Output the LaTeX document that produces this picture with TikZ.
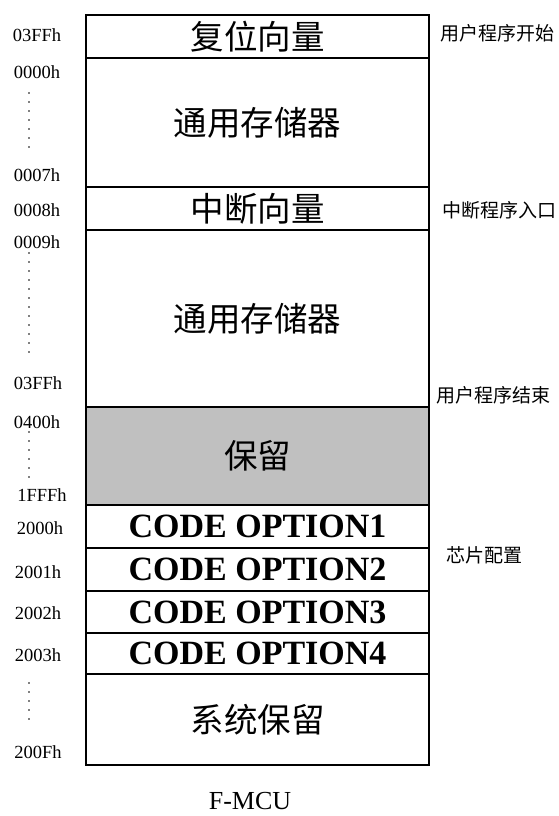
\documentclass[tikz,border=0pt]{standalone}
\usepackage{fontspec}
\setmainfont{Liberation Serif}
\newfontfamily\cjk{Noto Sans CJK SC}
\begin{document}
\begin{tikzpicture}[x=1pt,y=-1pt,
  blk/.style={draw=black,line width=2.6pt,minimum width=343pt,inner sep=0pt,anchor=center},
  big/.style={font=\cjk\fontsize{33.5}{36}\selectfont},
  opt/.style={font=\bfseries\fontsize{34}{36}\selectfont},
  addr/.style={font=\fontsize{18.5}{20}\selectfont,anchor=center},
  note/.style={font=\cjk\fontsize{19}{21}\selectfont,anchor=west,inner sep=0pt},
  dotline/.style={line width=1.6pt,line cap=round,dash pattern=on 0pt off 9pt}]
\useasboundingbox (0,0) rectangle (558,816);
\fill[white] (0,0) rectangle (558,816);
% blocks
\node[blk,big,minimum height=43pt] (b1) at (257.5,36.5) {复位向量};
\node[blk,big,minimum height=129pt] (b2) at (257.5,122.5) {通用存储器};
\node[blk,big,minimum height=43pt] (b3) at (257.5,208.5) {中断向量};
\node[blk,big,minimum height=177pt] (b4) at (257.5,318.5) {通用存储器};
\node[blk,big,minimum height=98pt,fill={rgb,255:red,192;green,192;blue,192}] (b5) at (257.5,456) {保留};
\node[blk,opt,minimum height=43pt] (b6) at (257.5,526.5) {CODE OPTION1};
\node[blk,opt,minimum height=43pt] (b7) at (257.5,569.5) {CODE OPTION2};
\node[blk,opt,minimum height=42pt] (b8) at (257.5,612) {CODE OPTION3};
\node[blk,opt,minimum height=41pt] (b9) at (257.5,653.5) {CODE OPTION4};
\node[blk,big,minimum height=91pt] (b10) at (257.5,719.5) {系统保留};
% address labels
\node[addr] (a1) at (37,35) {03FFh};
\node[addr] (a2) at (37,72) {0000h};
\node[addr] (a3) at (37,175) {0007h};
\node[addr] (a4) at (37,210) {0008h};
\node[addr] (a5) at (37,242) {0009h};
\node[addr] (a6) at (38,383) {03FFh};
\node[addr] (a7) at (37,422) {0400h};
\node[addr] (a8) at (42,495) {1FFFh};
\node[addr] (a9) at (40,528) {2000h};
\node[addr] (a10) at (38,572) {2001h};
\node[addr] (a11) at (38,613) {2002h};
\node[addr] (a12) at (38,655) {2003h};
\node[addr] (a13) at (38,752) {200Fh};
% dots
\draw[dotline] (29,93) -- (29,148);
\draw[dotline] (29,253) -- (29,356);
\draw[dotline] (29,432) -- (29,478);
\draw[dotline] (29,683) -- (29,720);
% notes
\node[note] (n1) at (440,33) {用户程序开始};
\node[note] (n2) at (442,210) {中断程序入口};
\node[note] (n3) at (436,395) {用户程序结束};
\node[note] (n4) at (446,555) {芯片配置};
% title
\node[font=\fontsize{26}{28}\selectfont] (t) at (250,801) {F-MCU};
\end{tikzpicture}
\end{document}
